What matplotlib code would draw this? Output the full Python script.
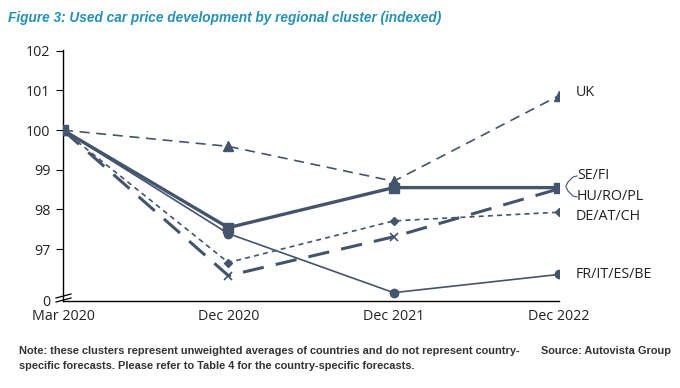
import matplotlib
matplotlib.use("Agg")
import matplotlib.pyplot as plt
from matplotlib.lines import Line2D

periods = ["Mar 2020", "Dec 2020", "Dec 2021", "Dec 2022"]
uk = [100, 99.59, 98.71, 100.87]
se_fi = [100, 97.54, 98.55, 98.55]
hu_ro_pl = [100, 96.33, 97.31, 98.52]
de_at_ch = [100, 96.66, 97.71, 97.93]
fr_it_es_be = [100, 97.39, 95.90, 96.36]
yticks = [97, 98, 99, 100, 101, 102]
axis_floor = 95.69  # position shown as "0" on the broken axis

C = "#44546A"
fig = plt.figure(figsize=(6.8, 3.88), dpi=100)
ax = fig.add_axes([63/680, 1-301/388, (559-63)/680, (301-50)/388])
x = list(range(len(periods)))

ax.plot(x, fr_it_es_be, color=C, lw=1.2, marker="o", ms=6, zorder=3)
ax.plot(x, uk, color=C, lw=1.2, ls=(0, (6, 4)), marker="^", ms=6.5, zorder=3)
ax.plot(x, de_at_ch, color=C, lw=1.2, ls=(0, (3, 2.5)), marker="D", ms=4.5, zorder=3)
ax.plot(x, hu_ro_pl, color=C, lw=2.2, ls=(0, (7, 4)), marker="x", ms=5.5, mew=1.2, zorder=4)
ax.plot(x, se_fi, color=C, lw=2.4, marker="s", ms=7, zorder=5)

ax.set_xlim(0, 3)
ax.set_ylim(axis_floor, 102.02)
ax.set_yticks([axis_floor] + yticks)
ax.set_yticklabels(["0"] + [str(v) for v in yticks])
ax.set_xticks(x)
ax.set_xticklabels(periods)
for s in ["top", "right"]:
    ax.spines[s].set_visible(False)
for s in ["left", "bottom"]:
    ax.spines[s].set_color("black")
    ax.spines[s].set_linewidth(1.0)
ax.tick_params(axis="y", length=5, width=0.8, labelsize=10.3, pad=4)
ax.tick_params(axis="x", length=0, labelsize=10.3, pad=6)
for lab in ax.get_xticklabels() + ax.get_yticklabels():
    lab.set_fontfamily("Open Sans")
    lab.set_color("#222222")
ax.get_yticklines()[0].set_visible(False)
ax.get_yticklines()[1].set_visible(False)
ax.set_clip_on(False)

# axis break marks
for dy in (0, 4):
    fig.add_artist(Line2D([56/680, 71/680], [1-(298+dy)/388, 1-(294+dy)/388],
                          color="black", lw=0.9))

# right-side labels
lab_kw = dict(fontsize=10.3, color="#222222", family="Open Sans", va="center")
fig.text(576/680, 1-93/388, "UK", **lab_kw)
fig.text(577/680, 1-176/388, "SE/FI", **lab_kw)
fig.text(577/680, 1-197/388, "HU/RO/PL", **lab_kw)
fig.text(576/680, 1-217/388, "DE/AT/CH", **lab_kw)
fig.text(576/680, 1-274/388, "FR/IT/ES/BE", **lab_kw)
# bracket leaders
fig.add_artist(Line2D([577/680, 573/680, 568/680, 566/680],
                      [1-176/388, 1-177/388, 1-182/388, 1-186/388], color=C, lw=0.8))
fig.add_artist(Line2D([577/680, 573/680, 568/680, 566/680],
                      [1-197/388, 1-196/388, 1-191/388, 1-187/388], color=C, lw=0.8))

fig.text(8/680, 1-18/388, "Figure 3: Used car price development by regional cluster (indexed)",
         fontsize=9.8, fontweight="bold", style="italic", color="#2590B3",
         family="Liberation Sans", va="center")

note_kw = dict(fontsize=7.95, fontweight="bold", color="#333333", family="Liberation Sans", va="center")
fig.text(19/680, 1-351/388,
         "Note: these clusters represent unweighted averages of countries and do not represent country-",
         **note_kw)
fig.text(19/680, 1-366/388,
         "specific forecasts. Please refer to Table 4 for the country-specific forecasts.", **note_kw)
fig.text(541/680, 1-351/388, "Source: Autovista Group", **note_kw)

fig.savefig("out.png", dpi=100, facecolor="white")
